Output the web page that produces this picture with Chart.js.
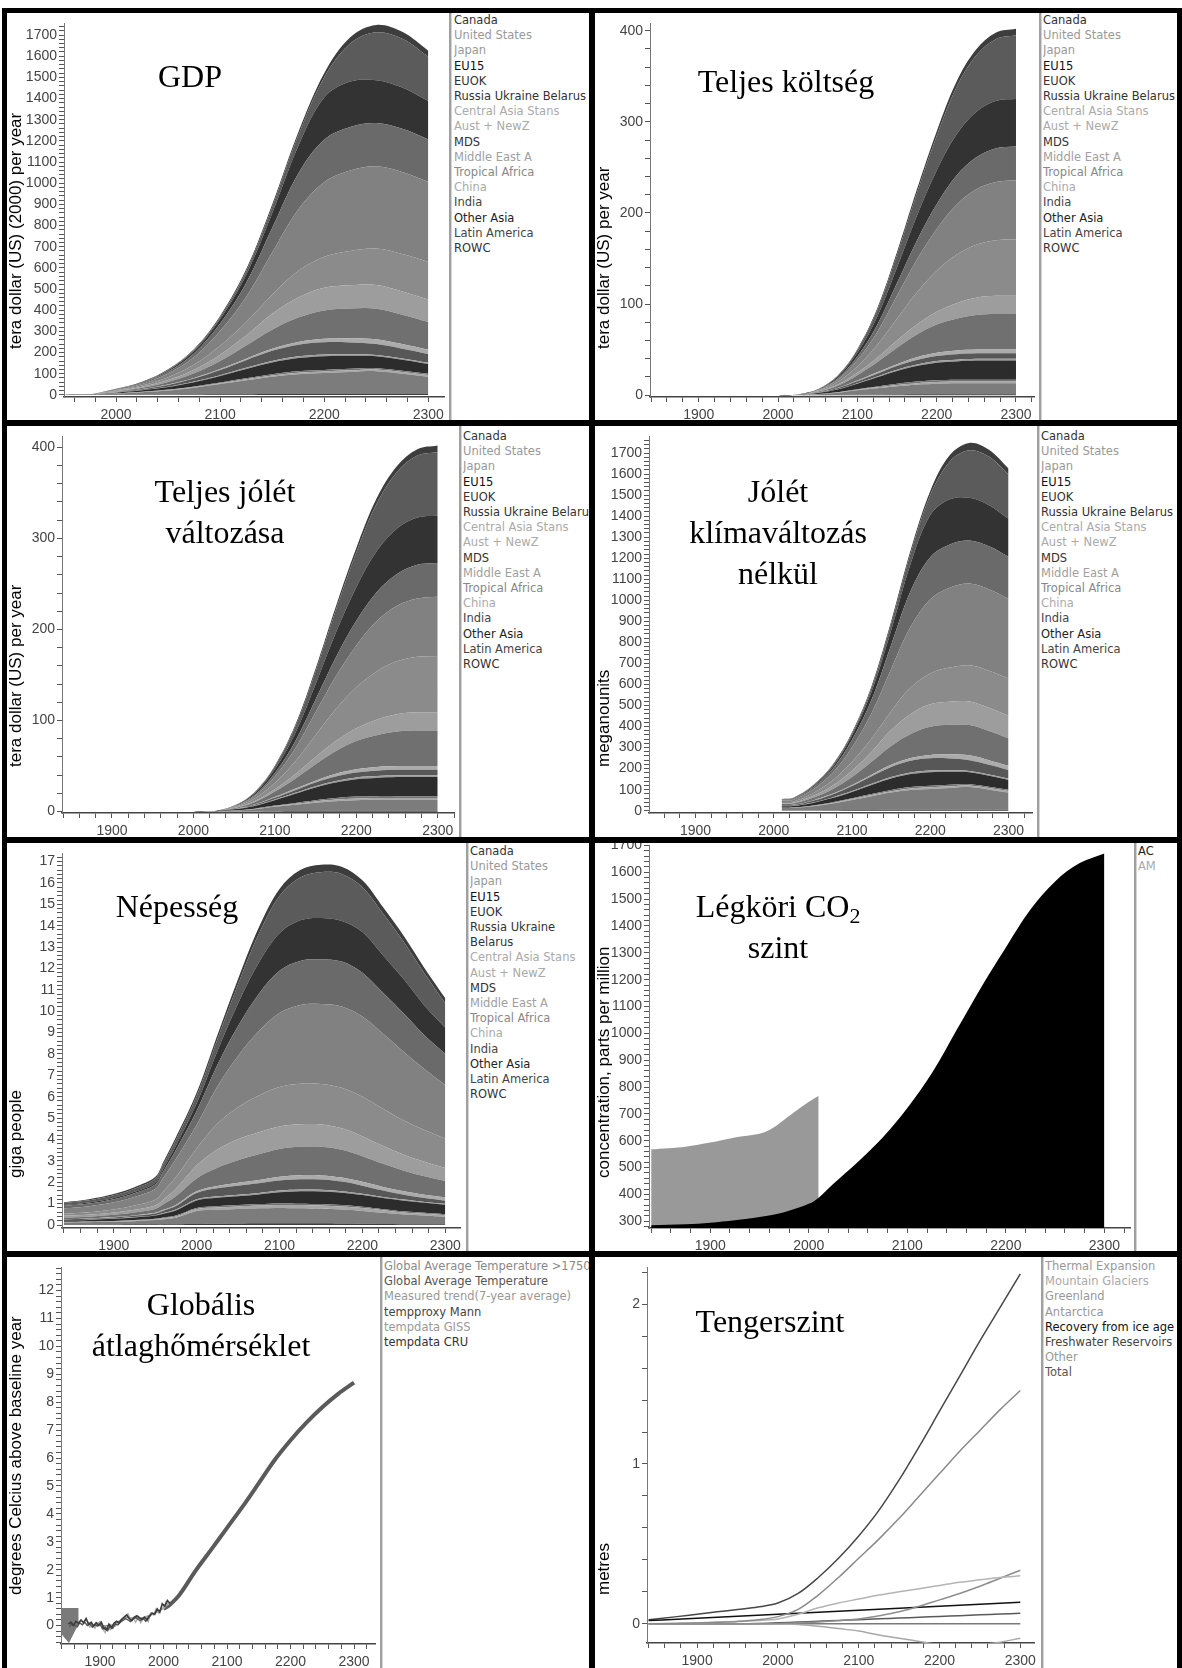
<!DOCTYPE html>
<html lang="hu">
<head>
<meta charset="utf-8">
<title>Régiók – GDP, költség, jólét, népesség, CO2, hőmérséklet, tengerszint</title>
<script src="https://cdn.jsdelivr.net/npm/chart.js@4.4.1/dist/chart.umd.min.js"></script>
<style>
  html, body { margin: 0; padding: 0; background: #fff; }
  #page { position: relative; width: 1182px; height: 1668px; overflow: hidden; background: #fff; }
  #page canvas { position: absolute; z-index: 1; }
  .bar { position: absolute; background: #000; z-index: 10; }
  .vline { position: absolute; width: 2px; background: #a0a0a0; border-right: 1px solid #d4d4d4; z-index: 3; }
  .legend { position: absolute; z-index: 2; font-family: 'DejaVu Sans', Verdana, sans-serif; font-size: 11.5px; line-height: 15.2px; white-space: nowrap; overflow: hidden; }
  .legend.wrap { white-space: normal; }
  .title { position: absolute; z-index: 4; width: 300px; text-align: center; font-family: 'Liberation Serif', 'Times New Roman', serif; font-size: 32px; line-height: 41px; color: #000; }
  .title sub { font-size: 22px; line-height: 0; vertical-align: -6px; }
  .ytitle { position: absolute; z-index: 4; transform-origin: 0 0; transform: rotate(-90deg); white-space: nowrap; font-family: 'Liberation Sans', Arial, sans-serif; font-size: 17px; line-height: 17px; color: #000; }
</style>
</head>
<body>
<div id="page"></div>
<script>
// ---------------- regions (legend order) ----------------
const regionNames = ['Canada', 'United States', 'Japan', 'EU15', 'EUOK', 'Russia Ukraine Belarus',
  'Central Asia Stans', 'Aust + NewZ', 'MDS', 'Middle East A', 'Tropical Africa', 'China',
  'India', 'Other Asia', 'Latin America', 'ROWC'];
const regionTextColors = ['#333', '#999', '#999', '#111', '#333', '#333', '#aaa', '#aaa',
  '#333', '#a0a0a0', '#888', '#aaa', '#444', '#222', '#444', '#333'];
const regionFill = ['#3d3d3d', '#5b5b5b', '#333333', '#6a6a6a', '#818181', '#8b8b8b', '#9d9d9d', '#707070',
  '#ababab', '#575757', '#9c9c9c', '#747474', '#2c2c2c', '#a6a6a6', '#7c7c7c', '#3c3c3c'];
// stacking, bottom -> top (index into regionNames)
const stackOrder = [15, 14, 13, 11, 12, 10, 9, 8, 7, 6, 5, 4, 3, 2, 1, 0];

// ---------------- GDP, tera dollar (US) (2000) per year ----------------
const gdpYears = [1950, 1975, 2000, 2025, 2050, 2075, 2100, 2125, 2150, 2175, 2200, 2225, 2250, 2275, 2300];
const gdpCanada    = [0, 0.1, 1, 2, 3, 4, 6, 9, 12, 15, 20, 30, 35, 32, 28];
const gdpUsa       = [0, 0.1, 1, 2, 3, 6, 10, 18, 30, 50, 95, 180, 226, 231, 210];
const gdpJapan     = [0, 0.1, 1, 2, 5, 10, 20, 38, 70, 130, 200, 215, 203, 195, 181];
const gdpEu15      = [0, 0.2, 2, 4, 9, 18, 35, 65, 115, 170, 200, 205, 204, 204, 200];
const gdpEuok      = [0, 0.3, 3, 8, 18, 36, 70, 120, 200, 290, 353, 380, 389, 388, 379];
const gdpRussia    = [0, 0.3, 3, 6, 13, 24, 42, 63, 90, 125, 146, 162, 172, 176, 177];
const gdpCentAsia  = [0, 0.2, 2, 4, 9, 17, 30, 47, 75, 95, 107, 110, 112, 110, 107];
const gdpAust      = [0, 0.2, 2, 6, 12, 22, 38, 62, 90, 115, 134, 140, 144, 139, 131];
const gdpMds       = [0, 0, 0.5, 1, 2, 3, 5, 7, 10, 13, 16, 20, 23, 22, 20];
const gdpMidEast   = [0, 0.2, 2, 4, 8, 14, 24, 36, 48, 55, 58, 56, 51, 46, 41];
const gdpTropAfr   = [0, 0, 0.5, 1, 2, 3, 4, 6, 7, 8, 8, 7, 6, 6, 6];
const gdpChina     = [0, 0, 0.5, 1, 2, 3, 4, 5, 6, 7, 7, 7, 6, 6, 6];
const gdpIndia     = [0, 0.4, 3, 7, 12, 20, 30, 43, 55, 62, 65, 62, 57, 52, 46];
const gdpOtherAsia = [0, 0.1, 0.5, 1, 2, 3, 4, 5, 6, 7, 8, 8, 8, 8, 8];
const gdpLatAm     = [0, 0.8, 6, 12, 20, 32, 48, 66, 82, 94, 99, 104, 108, 96, 82];
const gdpRowc      = [0, 0.1, 0.5, 1, 1, 2, 3, 3, 4, 4, 4, 4, 4, 4, 4];
const gdpSeries = [gdpCanada, gdpUsa, gdpJapan, gdpEu15, gdpEuok, gdpRussia, gdpCentAsia, gdpAust,
  gdpMds, gdpMidEast, gdpTropAfr, gdpChina, gdpIndia, gdpOtherAsia, gdpLatAm, gdpRowc];

// welfare without climate change (meganounits): starts 2010, then follows the GDP curves
const welfare2010 = [1.5, 1.5, 1.5, 3.5, 7, 5.5, 3.5, 5.5, 1, 3.5, 1, 1, 6.5, 1, 11.5, 1];

// ---------------- total cost / welfare change, tera dollar (US) per year ----------------
const costYears = [2000, 2025, 2050, 2075, 2100, 2125, 2150, 2175, 2200, 2225, 2250, 2275, 2300];
const costCanada    = [0, 0, 0.2, 0.5, 1, 2, 3, 4, 5, 6, 6.5, 7, 7];
const costUsa       = [0, 0, 0.3, 1, 3, 7, 14, 25, 38, 52, 62, 68, 70];
const costJapan     = [0, 0, 0.3, 1.5, 4, 9, 17, 27, 37, 45, 50, 52, 52];
const costEu15      = [0, 0, 0.3, 1.5, 4, 8, 14, 21, 27, 32, 35, 37, 37];
const costEuok      = [0, 0.1, 0.6, 2.5, 7, 14, 25, 36, 46, 55, 61, 64, 65];
const costRussia    = [0, 0.1, 0.8, 3, 7, 14, 24, 35, 45, 53, 58, 61, 62];
const costCentAsia  = [0, 0, 0.3, 1, 2.5, 5, 8, 11, 14, 17, 19, 20, 20];
const costAust      = [0, 0.1, 0.8, 2.5, 6, 11, 18, 25, 31, 35, 38, 39, 39];
const costMds       = [0, 0, 0.1, 0.3, 0.8, 1.5, 2, 3, 3.5, 4, 4, 4, 4];
const costMidEast   = [0, 0.1, 0.3, 1, 2, 3, 4, 5, 5.5, 6, 6, 6, 6];
const costTropAfr   = [0, 0, 0.1, 0.3, 0.6, 1, 1.4, 1.7, 2, 2, 2, 2, 2];
const costChina     = [0, 0, 0.1, 0.3, 0.6, 1, 1.4, 1.7, 2, 2, 2, 2, 2];
const costIndia     = [0, 0.2, 1.2, 3, 6, 10, 14, 17, 19, 20, 21, 21, 21];
const costOtherAsia = [0, 0, 0.1, 0.3, 0.6, 1, 1.4, 1.7, 2, 2, 2, 2, 2];
const costLatAm     = [0, 0.2, 1, 2.5, 5, 7, 9, 10.5, 11.5, 12, 12, 12, 12];
const costRowc      = [0, 0, 0.1, 0.2, 0.4, 0.6, 0.8, 1, 1, 1, 1, 1, 1];
const costSeries = [costCanada, costUsa, costJapan, costEu15, costEuok, costRussia, costCentAsia, costAust,
  costMds, costMidEast, costTropAfr, costChina, costIndia, costOtherAsia, costLatAm, costRowc];

// ---------------- population, giga people ----------------
const popYears = [1840, 1870, 1900, 1925, 1950, 1960, 1975, 2000, 2025, 2050, 2075, 2100, 2125, 2150, 2175, 2200, 2225, 2250, 2275, 2300];
const popCanada    = [0.04, 0.05, 0.06, 0.07, 0.08, 0.1, 0.12, 0.15, 0.2, 0.25, 0.3, 0.33, 0.35, 0.35, 0.34, 0.32, 0.3, 0.28, 0.25, 0.23];
const popUsa       = [0.1, 0.11, 0.13, 0.15, 0.18, 0.22, 0.27, 0.35, 0.55, 0.9, 1.35, 1.75, 2.0, 2.14, 2.2, 2.1, 1.95, 1.75, 1.5, 1.15];
const popJapan     = [0.03, 0.04, 0.05, 0.06, 0.08, 0.12, 0.2, 0.35, 0.65, 1.05, 1.45, 1.75, 1.9, 1.94, 1.9, 1.9, 1.75, 1.6, 1.4, 1.22];
const popEu15      = [0.12, 0.13, 0.15, 0.18, 0.22, 0.3, 0.42, 0.65, 1.0, 1.4, 1.75, 1.98, 2.06, 2.08, 2.1, 2.05, 1.92, 1.8, 1.57, 1.45];
const popEuok      = [0.25, 0.28, 0.33, 0.4, 0.5, 0.65, 0.85, 1.1, 1.75, 2.4, 3.0, 3.45, 3.68, 3.74, 3.8, 3.75, 3.5, 3.2, 2.85, 2.51];
const popRussia    = [0.1, 0.12, 0.15, 0.2, 0.27, 0.38, 0.55, 0.8, 1.2, 1.5, 1.72, 1.85, 1.9, 1.9, 1.9, 1.85, 1.75, 1.6, 1.48, 1.37];
const popCentAsia  = [0.08, 0.09, 0.1, 0.12, 0.16, 0.22, 0.35, 0.6, 0.85, 0.98, 1.03, 1.05, 1.05, 1.04, 1.0, 0.93, 0.83, 0.75, 0.68, 0.61];
const popAust      = [0.08, 0.09, 0.11, 0.14, 0.18, 0.26, 0.4, 0.6, 0.85, 1.05, 1.2, 1.3, 1.33, 1.34, 1.3, 1.2, 1.08, 0.96, 0.86, 0.76];
const popMds       = [0.01, 0.01, 0.02, 0.02, 0.03, 0.04, 0.05, 0.08, 0.11, 0.14, 0.16, 0.18, 0.19, 0.19, 0.19, 0.18, 0.17, 0.17, 0.16, 0.16];
const popMidEast   = [0.03, 0.04, 0.05, 0.06, 0.08, 0.11, 0.17, 0.3, 0.38, 0.42, 0.45, 0.47, 0.48, 0.48, 0.45, 0.38, 0.3, 0.22, 0.18, 0.15];
const popTropAfr   = [0.01, 0.01, 0.01, 0.02, 0.02, 0.03, 0.04, 0.05, 0.06, 0.07, 0.07, 0.08, 0.08, 0.08, 0.07, 0.06, 0.05, 0.05, 0.04, 0.04];
const popChina     = [0.01, 0.01, 0.01, 0.02, 0.02, 0.03, 0.04, 0.05, 0.06, 0.06, 0.07, 0.07, 0.07, 0.07, 0.07, 0.06, 0.05, 0.05, 0.04, 0.04];
const popIndia     = [0.07, 0.08, 0.1, 0.12, 0.15, 0.18, 0.24, 0.35, 0.4, 0.42, 0.45, 0.52, 0.58, 0.59, 0.58, 0.55, 0.52, 0.5, 0.47, 0.45];
const popOtherAsia = [0.02, 0.02, 0.03, 0.03, 0.04, 0.05, 0.06, 0.1, 0.11, 0.12, 0.13, 0.14, 0.15, 0.15, 0.14, 0.13, 0.12, 0.1, 0.09, 0.08];
const popLatAm     = [0.1, 0.11, 0.13, 0.15, 0.2, 0.24, 0.3, 0.6, 0.65, 0.68, 0.7, 0.72, 0.7, 0.68, 0.65, 0.6, 0.52, 0.45, 0.4, 0.35];
const popRowc      = [0.02, 0.02, 0.02, 0.03, 0.03, 0.03, 0.04, 0.05, 0.06, 0.07, 0.08, 0.08, 0.08, 0.08, 0.07, 0.06, 0.05, 0.04, 0.04, 0.03];
const popSeries = [popCanada, popUsa, popJapan, popEu15, popEuok, popRussia, popCentAsia, popAust,
  popMds, popMidEast, popTropAfr, popChina, popIndia, popOtherAsia, popLatAm, popRowc];

// ---------------- atmospheric CO2, ppm ----------------
const acYears  = [1840, 1875, 1900, 1925, 1950, 1975, 2000, 2010, 2025, 2050, 2075, 2100, 2125, 2150, 2175, 2200, 2225, 2250, 2275, 2300];
const acValues = [285, 289, 295, 304, 316, 334, 365, 388, 440, 522, 612, 722, 852, 1012, 1172, 1320, 1461, 1566, 1634, 1670];
const amYears  = [1840, 1875, 1900, 1925, 1950, 1960, 1970, 1980, 1990, 2000, 2010];
const amValues = [568, 578, 593, 612, 626, 640, 664, 692, 719, 745, 768];

// ---------------- global average temperature, deg C above baseline ----------------
const gatEarlyYears  = [1839, 1866, 1866, 1851, 1839, 1839];
const gatEarlyValues = [0.63, 0.63, 0.05, -0.62, -0.3, 0.63];
const gatYears  = [2000, 2010, 2025, 2050, 2075, 2100, 2125, 2150, 2175, 2200, 2225, 2250, 2275, 2300];
const gatValues = [0.6, 0.75, 1.1, 1.95, 2.72, 3.5, 4.28, 5.1, 5.93, 6.64, 7.27, 7.82, 8.3, 8.7];
const trendYears  = [1880, 1900, 1920, 1940, 1960, 1980, 2000, 2008];
const trendValues = [0.05, 0.0, 0.02, 0.28, 0.25, 0.38, 0.62, 0.78];
const mannYears  = [1852, 1856, 1860, 1864, 1868, 1872, 1876, 1880, 1884, 1888, 1892, 1896, 1900, 1904, 1908, 1912, 1916,
  1920, 1924, 1928, 1932, 1936, 1940, 1944, 1948, 1952, 1956, 1960, 1964, 1968, 1972, 1976, 1980];
const mannValues = [-0.05, 0.08, 0.02, -0.04, 0.1, 0.03, 0.12, 0.0, 0.06, -0.06, 0.04, -0.02, 0.06, -0.12, -0.05, -0.18, 0.0,
  -0.1, 0.05, 0.02, 0.12, 0.18, 0.25, 0.2, 0.14, 0.24, 0.3, 0.22, 0.18, 0.26, 0.15, 0.3, 0.36];
const gissYears  = [1880, 1884, 1888, 1892, 1896, 1900, 1904, 1908, 1912, 1916, 1920, 1924, 1928, 1932, 1936, 1940, 1944,
  1948, 1952, 1956, 1960, 1964, 1968, 1972, 1976, 1980, 1984, 1988, 1992, 1996, 2000, 2004, 2008];
const gissValues = [0.1, -0.05, 0.05, -0.1, 0.08, 0.15, -0.12, -0.25, -0.05, -0.15, 0.02, -0.02, 0.1, 0.12, 0.2, 0.35, 0.42,
  0.2, 0.28, 0.12, 0.3, 0.1, 0.25, 0.32, 0.15, 0.45, 0.38, 0.58, 0.45, 0.62, 0.6, 0.85, 0.75];
const cruYears  = [1850, 1854, 1858, 1862, 1866, 1870, 1874, 1878, 1882, 1886, 1890, 1894, 1898, 1902, 1906, 1910, 1914,
  1918, 1922, 1926, 1930, 1934, 1938, 1942, 1946, 1950, 1954, 1958, 1962, 1966, 1970, 1974, 1978, 1982, 1986, 1990,
  1994, 1998, 2002, 2006, 2010];
const cruValues = [0.05, 0.12, 0.0, 0.15, 0.08, 0.2, 0.1, 0.25, 0.05, 0.12, -0.02, 0.1, 0.02, 0.12, -0.1, -0.15, 0.05,
  -0.08, 0.08, 0.15, 0.1, 0.22, 0.3, 0.38, 0.25, 0.18, 0.3, 0.35, 0.28, 0.22, 0.3, 0.2, 0.35, 0.45, 0.4, 0.6,
  0.48, 0.78, 0.7, 0.9, 0.8];
const tempNames = ['Global Average Temperature >1750', 'Global Average Temperature', 'Measured trend(7-year average)',
  'tempproxy Mann', 'tempdata GISS', 'tempdata CRU'];
const tempTextColors = ['#888', '#555', '#999', '#444', '#999', '#333'];

// ---------------- sea level, metres ----------------
const seaYears = [1840, 1875, 1900, 1925, 1950, 1975, 2000, 2025, 2050, 2075, 2100, 2125, 2150, 2175, 2200, 2225, 2250, 2275, 2300];
const seaThermal    = [0, 0.002, 0.005, 0.01, 0.015, 0.025, 0.045, 0.09, 0.18, 0.29, 0.41, 0.53, 0.66, 0.8, 0.94, 1.08, 1.21, 1.34, 1.46];
const seaGlaciers   = [0, 0.003, 0.006, 0.01, 0.015, 0.02, 0.03, 0.06, 0.1, 0.13, 0.155, 0.18, 0.2, 0.22, 0.24, 0.26, 0.275, 0.29, 0.3];
const seaGreenland  = [0, 0, 0, 0, 0, 0, 0.002, 0.006, 0.012, 0.02, 0.03, 0.05, 0.075, 0.11, 0.15, 0.19, 0.235, 0.285, 0.335];
const seaAntarctica = [0, 0, 0, 0, 0, 0, 0, -0.005, -0.015, -0.03, -0.045, -0.07, -0.09, -0.11, -0.13, -0.135, -0.13, -0.115, -0.09];
const seaRecovery   = [0.02, 0.028, 0.035, 0.041, 0.047, 0.053, 0.06, 0.066, 0.072, 0.078, 0.085, 0.091, 0.097, 0.103, 0.11, 0.116, 0.122, 0.128, 0.135];
const seaFreshwater = [0, 0, 0, 0, 0, 0.002, 0.006, 0.011, 0.016, 0.021, 0.026, 0.031, 0.036, 0.041, 0.046, 0.051, 0.056, 0.061, 0.066];
const seaOther      = [0, 0, 0, 0, 0, 0, 0, 0, 0, 0, 0, 0, 0, 0, 0, 0, 0, 0, 0];
const seaTotal      = [0.025, 0.045, 0.06, 0.075, 0.09, 0.105, 0.13, 0.19, 0.29, 0.41, 0.55, 0.71, 0.9, 1.11, 1.33, 1.55, 1.77, 1.98, 2.19];
const seaNames = ['Thermal Expansion', 'Mountain Glaciers', 'Greenland', 'Antarctica', 'Recovery from ice age',
  'Freshwater Reservoirs', 'Other', 'Total'];
const seaLineColors = ['#8a8a8a', '#b4b4b4', '#8e8e8e', '#a8a8a8', '#111111', '#5a5a5a', '#7a7a7a', '#474747'];
const seaTextColors = ['#999', '#aaa', '#999', '#999', '#111', '#444', '#999', '#555'];

// ---------------- helpers ----------------
const page = document.getElementById('page');
Chart.defaults.font.family = "'Liberation Sans', Arial, sans-serif";

function addDiv(cls, css, html) {
  const d = document.createElement('div');
  d.className = cls;
  d.style.cssText = css;
  if (html) d.innerHTML = html;
  page.appendChild(d);
  return d;
}

function points(xs, ys) {
  return xs.map((x, k) => ({ x: x, y: ys[k] }));
}

function stackedSets(years, series) {
  return stackOrder.map((r, i) => ({
    label: regionNames[r],
    data: points(years, series[r]),
    backgroundColor: regionFill[r],
    borderColor: regionFill[r],
    borderWidth: 0,
    fill: i === 0 ? 'origin' : '-1',
    pointRadius: 0,
    tension: 0.35
  }));
}

function lineSet(label, xs, ys, color, width, extra) {
  return Object.assign({
    label: label, data: points(xs, ys), borderColor: color, backgroundColor: color,
    borderWidth: width, fill: false, pointRadius: 0, tension: 0
  }, extra || {});
}

function tickValues(min, max, step) {
  const out = [];
  for (let k = Math.ceil(min / step - 1e-9); k * step <= max + 1e-9; k++) {
    out.push(Math.round(k * step * 1e6) / 1e6);
  }
  return out;
}

function axis(range, size, stacked, horizontal) {
  const [min, max, minor, major] = range;
  return {
    type: 'linear', min: min, max: max, bounds: 'data', stacked: stacked,
    afterBuildTicks: s => { s.ticks = tickValues(min, max, minor).map(v => ({ value: v })); },
    afterFit: s => { if (horizontal) s.height = size; else s.width = size; },
    grid: { drawOnChartArea: false, drawTicks: true, tickLength: 5, tickColor: '#555', tickWidth: 1 },
    border: { display: true, color: horizontal ? '#444' : '#777', width: horizontal ? 1.5 : 1 },
    ticks: {
      autoSkip: false, maxRotation: 0, minRotation: 0, padding: horizontal ? 5 : 2,
      color: '#444', font: { size: 14 },
      callback: v => Math.abs(v / major - Math.round(v / major)) < 1e-6 ? String(Math.round(v * 1000) / 1000) : ''
    }
  };
}

function makeChart(box, plot, xr, yr, datasets, stacked) {
  const c = document.createElement('canvas');
  c.width = box.r - box.l;
  c.height = box.b - box.t;
  c.style.left = box.l + 'px';
  c.style.top = box.t + 'px';
  page.appendChild(c);
  new Chart(c, {
    type: 'line',
    data: { datasets: datasets },
    options: {
      responsive: false, animation: false, events: [], devicePixelRatio: 1,
      layout: { autoPadding: false, padding: { left: 0, top: plot.t - box.t, right: box.r - plot.r, bottom: 0 } },
      plugins: { legend: { display: false }, tooltip: { enabled: false } },
      scales: {
        x: axis(xr, box.b - plot.b, false, true),
        y: axis(yr, plot.l - box.l, stacked, false)
      }
    }
  });
}

function legend(x, top, width, names, colors, wrap) {
  addDiv('legend' + (wrap ? ' wrap' : ''), `left:${x}px;top:${top}px;width:${width}px;`,
    names.map((n, i) => `<div style="color:${colors[i]}">${n}</div>`).join(''));
}

function vline(x, top, bottom) {
  addDiv('vline', `left:${x}px;top:${top}px;height:${bottom - top}px;`);
}

function title(cx, base, lines) {
  addDiv('title', `left:${cx - 150}px;top:${base - 31.3}px;`, lines.join('<br>'));
}

function ytitle(left, bottom, text) {
  addDiv('ytitle', `left:${left}px;top:${bottom}px;`, text);
}

// ---------------- panels ----------------
// 1. GDP
makeChart({ l: 7, t: 13, r: 449, b: 420 }, { l: 64, t: 14, r: 446, b: 397 },
  [1950, 2316, 20, 100], [-10, 1755, 20, 100], stackedSets(gdpYears, gdpSeries), true);
vline(449, 13, 420);
legend(454, 13, 135, regionNames, regionTextColors, false);
title(190, 87, ['GDP']);
ytitle(7, 349, 'tera dollar (US) (2000) per year');

// 2. Teljes költség
makeChart({ l: 595, t: 13, r: 1039, b: 420 }, { l: 650, t: 14, r: 1034, b: 397 },
  [1838.6, 2322.7, 20, 100], [-2, 408, 20, 100], stackedSets(costYears, costSeries), true);
vline(1039, 13, 420);
legend(1043, 13, 134, regionNames, regionTextColors, false);
title(786, 92, ['Teljes költség']);
ytitle(595, 349, 'tera dollar (US) per year');

// 3. Teljes jólét változása
makeChart({ l: 7, t: 426, r: 459, b: 837 }, { l: 62, t: 429, r: 454, b: 813 },
  [1838.6, 2320, 20, 100], [-1.5, 412, 20, 100], stackedSets(costYears, costSeries), true);
vline(459, 426, 837);
legend(463, 429, 126, regionNames, regionTextColors, false);
title(225, 502, ['Teljes jólét', 'változása']);
ytitle(7, 767, 'tera dollar (US) per year');

// 4. Jólét klímaváltozás nélkül
const welfareYears = [2010].concat(gdpYears.slice(3));
const welfareSeries = gdpSeries.map((s, r) => [welfare2010[r]].concat(s.slice(3)));
makeChart({ l: 595, t: 426, r: 1037, b: 837 }, { l: 649, t: 429, r: 1032, b: 813 },
  [1840.5, 2330, 20, 100], [-11, 1779, 20, 100], stackedSets(welfareYears, welfareSeries), true);
vline(1037, 426, 837);
legend(1041, 429, 136, regionNames, regionTextColors, false);
title(778, 502, ['Jólét', 'klímaváltozás', 'nélkül']);
ytitle(595, 767, 'meganounits');

// 5. Népesség
makeChart({ l: 7, t: 843, r: 466, b: 1251 }, { l: 62, t: 845, r: 462, b: 1228 },
  [1837.6, 2318, 20, 100], [-0.14, 17.38, 0.2, 1], stackedSets(popYears, popSeries), true);
vline(466, 843, 1251);
legend(470, 844, 119, regionNames, regionTextColors, true);
title(177, 917, ['Népesség']);
ytitle(7, 1178, 'giga people');

// 6. Légköri CO2 szint
makeChart({ l: 595, t: 835, r: 1134, b: 1251 }, { l: 649, t: 843, r: 1130, b: 1228 },
  [1837.8, 2326, 20, 100], [275, 1700, 20, 100], [
    lineSet('AC', acYears, acValues, '#000000', 0, { fill: 'start', tension: 0.35 }),
    lineSet('AM', amYears, amValues, '#999999', 0, { fill: 'start', tension: 0.3 })
  ], false);
vline(1134, 843, 1251);
legend(1138, 844, 39, ['AC', 'AM'], ['#222', '#aaa'], false);
title(778, 917, ['Légköri CO<sub>2</sub>', 'szint']);
ytitle(595, 1178, 'concentration, parts per million');

// 7. Globális átlaghőmérséklet
makeChart({ l: 7, t: 1257, r: 380, b: 1668 }, { l: 61, t: 1258, r: 375, b: 1644 },
  [1838.5, 2333, 20, 100], [-0.66, 12.83, 0.2, 1], [
    lineSet(tempNames[5], cruYears, cruValues, '#3e3e3e', 1.7),
    lineSet(tempNames[3], mannYears, mannValues, '#555555', 1.4),
    lineSet(tempNames[4], gissYears, gissValues, '#b0b0b0', 1.4),
    lineSet(tempNames[2], trendYears, trendValues, '#9a9a9a', 1.5, { tension: 0.3 }),
    lineSet(tempNames[1], gatYears, gatValues, '#5a5a5a', 4, { tension: 0.35 }),
    lineSet(tempNames[0], gatEarlyYears, gatEarlyValues, '#7a7a7a', 0, { fill: 'shape' })
  ], false);
vline(380, 1257, 1668);
legend(384, 1259, 205, tempNames, tempTextColors, false);
title(201, 1315, ['Globális', 'átlaghőmérséklet']);
ytitle(7, 1595, 'degrees Celcius above baseline year');

// 8. Tengerszint
const seaValues = [seaThermal, seaGlaciers, seaGreenland, seaAntarctica, seaRecovery, seaFreshwater, seaOther, seaTotal];
makeChart({ l: 595, t: 1257, r: 1041, b: 1668 }, { l: 647, t: 1258, r: 1038, b: 1643 },
  [1838, 2317, 20, 100], [-0.12, 2.23, 0.2, 1],
  seaValues.map((v, i) => lineSet(seaNames[i], seaYears, v, seaLineColors[i], 1.5, { tension: 0.35 })),
  false);
vline(1041, 1257, 1668);
legend(1045, 1259, 132, seaNames, seaTextColors, false);
title(770, 1332, ['Tengerszint']);
ytitle(595, 1595, 'metres');

// ---------------- frame ----------------
[[2, 8, 1180, 5], [2, 8, 5, 1660], [1177, 8, 5, 1660], [589, 8, 6, 1660],
 [2, 420, 1180, 6], [2, 837, 1180, 6], [2, 1251, 1180, 6]].forEach(b => {
  addDiv('bar', `left:${b[0]}px;top:${b[1]}px;width:${b[2]}px;height:${b[3]}px;`);
});
</script>
</body>
</html>
